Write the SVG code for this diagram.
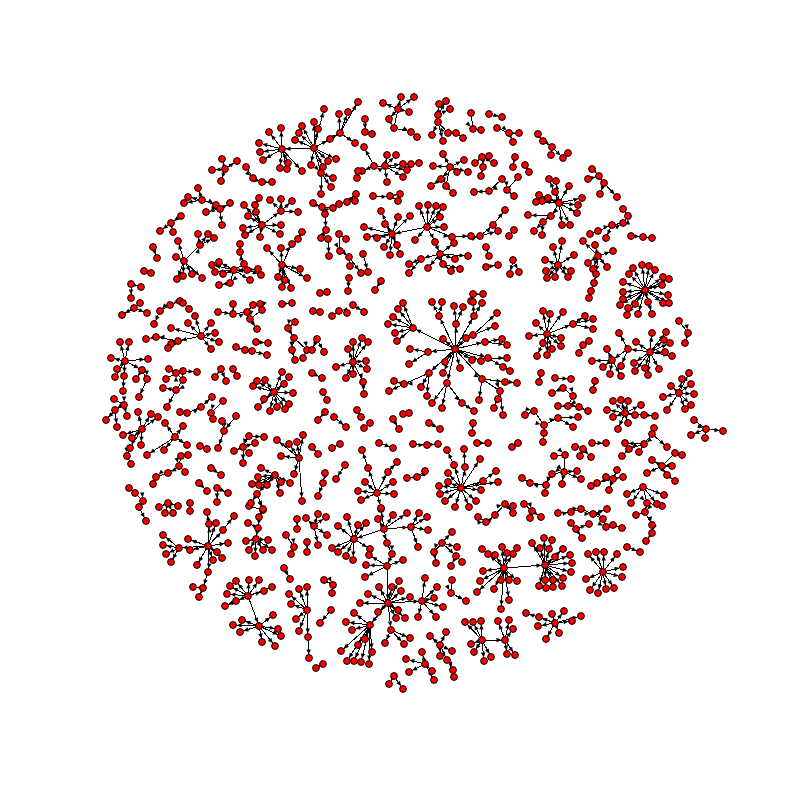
<svg xmlns="http://www.w3.org/2000/svg" width="800" height="800" viewBox="0 0 800 800">
<defs>
<marker id="ar" viewBox="-10 -3 10 6" refX="0" refY="0" markerWidth="10" markerHeight="6" markerUnits="userSpaceOnUse" orient="auto" overflow="visible"><path d="M-3.5 0L-8.5-2.2L-8.5 2.2z" fill="#000"/></marker>
<marker id="nd" viewBox="-5 -5 10 10" refX="0" refY="0" markerWidth="10" markerHeight="10" markerUnits="userSpaceOnUse" overflow="visible"><circle r="3.4" fill="#f00" stroke="#000" stroke-width="1"/></marker>
</defs>
<style>
#connectors path{fill:none;stroke:#000;stroke-width:1;shape-rendering:crispEdges;marker-mid:url(#ar);marker-end:url(#ar)}
#nodes path{fill:none;stroke:none;marker-start:url(#nd);marker-mid:url(#nd);marker-end:url(#nd)}
</style>
<rect width="800" height="800" fill="#fff"/>
<g id="connectors">
<path d="M314 148 282 149"/><path d="M282 149 281 128"/><path d="M282 149 269 132"/><path d="M282 149 259 143"/><path d="M282 149 260 152"/><path d="M282 149 263 160"/><path d="M282 149 280 168"/><path d="M282 149 287 169"/><path d="M282 149 288 163"/><path d="M282 149 302 171"/><path d="M314 148 295 140"/><path d="M314 148 299 133"/><path d="M314 148 302 126"/><path d="M314 148 314 122"/><path d="M314 148 318 129"/><path d="M314 148 324 109"/><path d="M314 148 340 133"/><path d="M340 133 339 114"/><path d="M340 133 348 112"/><path d="M340 133 358 102"/><path d="M340 133 355 143"/><path d="M314 148 330 139"/><path d="M314 148 328 161"/><path d="M314 148 336 159"/><path d="M314 148 323 167"/><path d="M314 148 321 173 333 178"/><path d="M321 173 331 187"/><path d="M321 173 321 194"/><path d="M314 148 311 165"/>
<path d="M365 119 365 132"/><path d="M365 132 372 134"/>
<path d="M398 109 401 97"/><path d="M398 109 414 97"/><path d="M398 109 383 103"/><path d="M398 109 409 112"/><path d="M398 109 389 119"/><path d="M398 109 394 128 411 132 417 137"/>
<path d="M438 115 439 104"/><path d="M438 115 446 101"/><path d="M438 115 450 109"/><path d="M438 115 438 122"/><path d="M438 122 432 135"/><path d="M438 122 448 133 456 133 463 138"/><path d="M438 122 443 141"/>
<path d="M471 113 473 129 481 130"/><path d="M489 114 502 117"/><path d="M497 128 509 133 513 142"/><path d="M509 133 519 133"/>
<path d="M385 166 374 166 364 147"/><path d="M385 166 387 155"/><path d="M385 166 396 155"/><path d="M385 166 403 164"/><path d="M385 166 411 164"/><path d="M385 166 419 163"/><path d="M385 166 407 170"/><path d="M385 166 403 177"/><path d="M385 166 387 182"/><path d="M374 166 362 171"/><path d="M358 171 357 178"/>
<path d="M450 167 443 154"/><path d="M450 167 464 160"/><path d="M450 167 457 172"/><path d="M450 167 468 172"/><path d="M450 167 433 166"/><path d="M450 167 441 179 431 186"/><path d="M450 167 446 186 453 193"/>
<path d="M482 157 475 163"/><path d="M482 157 489 156"/><path d="M482 157 494 163"/><path d="M482 157 483 167 481 176"/>
<path d="M502 179 489 191 474 192"/><path d="M515 157 513 167"/><path d="M518 177 507 190 514 196"/>
<path d="M373 196 390 196 400 194"/><path d="M390 196 398 201"/>
<path d="M313 203 322 207 333 208 339 204 347 202 355 201"/><path d="M347 202 356 194"/><path d="M322 207 325 214 326 230"/>
<path d="M392 234 381 211"/><path d="M392 234 385 224"/><path d="M392 234 398 217"/><path d="M392 234 364 227"/><path d="M392 234 367 237"/><path d="M392 234 377 238"/><path d="M392 234 384 247"/><path d="M392 234 390 255"/><path d="M392 234 397 245"/><path d="M392 234 400 254"/><path d="M392 234 410 216"/><path d="M427 227 392 234"/><path d="M427 227 419 206"/><path d="M427 227 428 205"/><path d="M427 227 436 206"/><path d="M427 227 443 207"/><path d="M427 227 440 217"/><path d="M427 227 444 227"/><path d="M427 227 415 240"/><path d="M427 227 452 237 471 236 480 236 493 225 505 210"/><path d="M480 236 498 231"/><path d="M427 227 435 242 440 254"/><path d="M440 254 454 243"/><path d="M440 254 468 256"/><path d="M440 254 421 259 409 264"/><path d="M421 259 409 273"/><path d="M440 254 443 264 451 271"/><path d="M443 264 460 269"/><path d="M440 254 428 268"/><path d="M440 254 455 259"/>
<path d="M321 238 328 239 329 256"/><path d="M339 234 346 239"/><path d="M339 234 340 251 349 257 361 273"/><path d="M349 257 350 266"/><path d="M363 254 368 272"/>
<path d="M381 281 375 290"/><path d="M349 278 348 291"/><path d="M320 293 327 292"/>
<path d="M486 247 489 256"/><path d="M486 267 498 265"/><path d="M514 230 509 236"/><path d="M513 260 510 274"/><path d="M513 260 519 272"/><path d="M473 294 483 294"/><path d="M473 294 471 301"/>
<path d="M538 134 543 141 552 147 563 158"/><path d="M552 147 551 155"/><path d="M563 158 568 153"/><path d="M525 165 529 172"/>
<path d="M559 203 549 179"/><path d="M559 203 556 181"/><path d="M559 203 555 192"/><path d="M559 203 569 186"/><path d="M559 203 539 195"/><path d="M559 203 542 201"/><path d="M559 203 536 202"/><path d="M559 203 548 198"/><path d="M559 203 582 198"/><path d="M559 203 578 205"/><path d="M559 203 577 213"/><path d="M559 203 551 216 543 222 534 231"/><path d="M543 222 542 235"/><path d="M551 216 528 215"/><path d="M559 203 562 225"/><path d="M559 203 570 225"/>
<path d="M592 169 599 176 604 183 617 197"/><path d="M588 179 599 176"/><path d="M604 183 600 194"/>
<path d="M590 234 598 231"/><path d="M598 231 612 225 623 223 628 216 623 209"/><path d="M612 225 606 238"/>
<path d="M631 236 643 237 652 238"/>
<path d="M558 265 562 241"/><path d="M558 265 553 247"/><path d="M558 265 574 255"/><path d="M558 265 545 260"/><path d="M558 265 546 271"/><path d="M558 265 547 278"/><path d="M558 265 555 277"/><path d="M558 265 568 277"/><path d="M558 265 571 271"/>
<path d="M598 256 583 241"/><path d="M598 256 595 245"/><path d="M598 256 613 251"/><path d="M598 256 588 263"/><path d="M598 256 593 269"/><path d="M598 256 607 267"/><path d="M598 256 596 274 594 283 591 291 589 298"/>
<path d="M645 290 633 268"/><path d="M645 290 642 265"/><path d="M645 290 649 266"/><path d="M645 290 655 270"/><path d="M645 290 629 274"/><path d="M645 290 623 282"/><path d="M645 290 663 277"/><path d="M645 290 669 279"/><path d="M645 290 662 285"/><path d="M645 290 668 295"/><path d="M645 290 623 292"/><path d="M645 290 623 299"/><path d="M645 290 620 305"/><path d="M645 290 628 308"/><path d="M645 290 627 315"/><path d="M645 290 635 304"/><path d="M645 290 638 314"/><path d="M645 290 652 314"/><path d="M645 290 663 303"/><path d="M645 290 669 303"/><path d="M645 290 648 302"/>
<path d="M547 334 543 311"/><path d="M547 334 550 314"/><path d="M547 334 536 323"/><path d="M547 334 563 312"/><path d="M547 334 529 336"/><path d="M547 334 543 343"/><path d="M547 334 552 349"/><path d="M547 334 561 346"/><path d="M547 334 561 338"/><path d="M547 334 547 355"/><path d="M547 334 537 356"/><path d="M547 334 573 324"/><path d="M573 324 585 316"/><path d="M573 324 593 319"/><path d="M573 324 593 329"/>
<path d="M583 345 589 341"/><path d="M583 345 579 353"/>
<path d="M650 352 652 333"/><path d="M650 352 666 332"/><path d="M650 352 664 340"/><path d="M650 352 670 343"/><path d="M650 352 636 342"/><path d="M650 352 665 352"/><path d="M650 352 672 356"/><path d="M650 352 634 363"/><path d="M650 352 635 371"/><path d="M650 352 645 368"/><path d="M650 352 648 375"/><path d="M650 352 659 369"/><path d="M650 352 628 349"/><path d="M628 349 619 333"/><path d="M628 349 621 366"/><path d="M628 349 612 360"/><path d="M612 360 607 349"/><path d="M612 360 592 361"/><path d="M612 360 603 367"/><path d="M612 360 610 374"/><path d="M612 360 621 376"/>
<path d="M679 321 688 333 685 343"/>
<path d="M541 373 539 382"/><path d="M555 378 571 379"/><path d="M595 381 593 390"/>
<path d="M679 393 689 373"/><path d="M679 393 682 379"/><path d="M679 393 691 384"/><path d="M679 393 671 386"/><path d="M679 393 663 397"/><path d="M679 393 694 394"/><path d="M679 393 691 405"/><path d="M679 393 685 409"/><path d="M679 393 667 410"/>
<path d="M694 420 706 429 723 431"/><path d="M706 429 705 438"/><path d="M706 429 691 435"/>
<path d="M625 413 613 401"/><path d="M625 413 621 400"/><path d="M625 413 628 401"/><path d="M625 413 607 410"/><path d="M625 413 613 417"/><path d="M625 413 618 429"/><path d="M625 413 628 423"/><path d="M625 413 635 415"/><path d="M625 413 641 405"/><path d="M625 413 644 415"/><path d="M625 413 655 416"/>
<path d="M563 388 552 393"/><path d="M563 388 573 396 568 406 558 406"/><path d="M568 406 579 407 588 411"/>
<path d="M525 415 534 411 544 425 558 418 578 417"/><path d="M558 418 573 427"/><path d="M544 425 544 433 543 442"/>
<path d="M654 428 652 434 644 444 629 449 622 456"/><path d="M644 444 639 452"/><path d="M644 444 625 443"/><path d="M652 434 667 447"/>
<path d="M675 453 682 455"/><path d="M675 453 662 466 652 460"/><path d="M662 466 672 466"/><path d="M662 466 647 473"/><path d="M662 466 667 475 675 481"/>
<path d="M592 443 606 443"/><path d="M575 447 583 449 591 457"/><path d="M583 449 580 456"/>
<path d="M554 456 565 455 564 472 577 471"/><path d="M564 472 581 479"/><path d="M564 472 552 474 546 485 545 493"/><path d="M546 485 530 483 522 478"/><path d="M564 472 562 484"/>
<path d="M613 479 617 470"/><path d="M613 479 623 477"/><path d="M613 479 606 477"/><path d="M613 479 609 490"/><path d="M613 479 597 483 591 486"/>
<path d="M643 487 627 494"/><path d="M643 487 647 503 662 506"/><path d="M643 487 664 495"/><path d="M643 487 657 504"/><path d="M643 487 631 503"/><path d="M647 503 645 512 636 515"/><path d="M645 512 652 525 652 533 646 541"/><path d="M627 547 640 552"/>
<path d="M524 504 532 511 530 518"/><path d="M532 511 541 517"/>
<path d="M558 513 571 512 581 509 593 514 607 509"/><path d="M593 514 603 519 606 527 613 525 622 528"/><path d="M571 523 576 529 582 538"/><path d="M576 529 589 524"/>
<path d="M504 568 545 565"/><path d="M545 565 532 543"/><path d="M545 565 544 538"/><path d="M545 565 552 540"/><path d="M545 565 540 548"/><path d="M545 565 549 549"/><path d="M545 565 563 549"/><path d="M545 565 570 555"/><path d="M545 565 572 563"/><path d="M545 565 571 572"/><path d="M545 565 563 578"/><path d="M545 565 562 586"/><path d="M545 565 553 587"/><path d="M545 565 553 580"/><path d="M545 565 546 588"/><path d="M545 565 539 586"/><path d="M545 565 545 580"/><path d="M545 565 555 557"/>
<path d="M504 568 482 549"/><path d="M504 568 488 554"/><path d="M504 568 495 555"/><path d="M504 568 502 547"/><path d="M504 568 507 553"/><path d="M504 568 513 554"/><path d="M504 568 517 548"/><path d="M504 568 483 571"/><path d="M504 568 480 581"/><path d="M504 568 477 592"/><path d="M504 568 494 589"/><path d="M504 568 501 580"/><path d="M504 568 509 580"/><path d="M504 568 509 600"/><path d="M504 568 501 609"/><path d="M504 568 517 581"/>
<path d="M603 572 588 554"/><path d="M603 572 596 552"/><path d="M603 572 604 552"/><path d="M603 572 617 554"/><path d="M603 572 623 567"/><path d="M603 572 622 577"/><path d="M603 572 614 588"/><path d="M603 572 606 589"/><path d="M603 572 598 593"/><path d="M603 572 590 590"/><path d="M603 572 586 579"/>
<path d="M555 623 526 613"/><path d="M555 623 539 617"/><path d="M555 623 552 614"/><path d="M555 623 564 611"/><path d="M555 623 572 621"/><path d="M555 623 581 616"/><path d="M555 623 538 626"/><path d="M555 623 559 633"/><path d="M555 623 546 639"/>
<path d="M482 640 465 622"/><path d="M482 640 473 622"/><path d="M482 640 481 621"/><path d="M482 640 471 644"/><path d="M482 640 474 652"/><path d="M482 640 484 661"/><path d="M482 640 491 657"/><path d="M482 640 505 640"/><path d="M505 640 498 621"/><path d="M505 640 509 620"/><path d="M505 640 513 629"/><path d="M505 640 507 654"/><path d="M505 640 515 655"/>
<path d="M440 645 430 636"/><path d="M440 645 446 632"/><path d="M440 645 452 651"/><path d="M440 645 440 656"/><path d="M440 645 447 660 453 670 454 677"/>
<path d="M425 664 422 652"/><path d="M425 664 406 659"/><path d="M425 664 409 672"/><path d="M425 664 432 671"/><path d="M425 664 434 680"/>
<path d="M394 676 389 684"/><path d="M394 676 403 689"/>
<path d="M452 580 451 593 466 601"/>
<path d="M442 543 452 532"/><path d="M442 543 457 547"/><path d="M442 543 434 552 436 563"/><path d="M442 543 456 556 462 562"/><path d="M456 556 451 566"/>
<path d="M478 517 486 522 495 515 505 504 513 506"/><path d="M505 504 513 513"/>
<path d="M314 526 318 514"/><path d="M314 526 326 517"/><path d="M314 526 327 535"/><path d="M314 526 318 545"/><path d="M314 526 306 518"/>
<path d="M384 529 354 539"/><path d="M354 539 347 517"/><path d="M354 539 338 526"/><path d="M354 539 358 525"/><path d="M354 539 366 523"/><path d="M354 539 332 548"/><path d="M354 539 338 552"/><path d="M354 539 346 556"/><path d="M354 539 353 560"/><path d="M354 539 370 549"/>
<path d="M384 529 381 509"/><path d="M384 529 393 515"/><path d="M384 529 378 519"/><path d="M384 529 407 513"/><path d="M384 529 411 527"/><path d="M411 527 419 513"/><path d="M411 527 427 517"/><path d="M411 527 428 530"/><path d="M411 527 418 547"/><path d="M384 529 387 543 392 554 387 566"/><path d="M387 566 369 555"/><path d="M387 566 366 565"/><path d="M387 566 365 577"/><path d="M387 566 403 560"/><path d="M387 566 388 603"/>
<path d="M388 603 379 587"/><path d="M388 603 392 587"/><path d="M388 603 399 581"/><path d="M388 603 401 591"/><path d="M388 603 410 597"/><path d="M388 603 368 594"/><path d="M388 603 360 603"/><path d="M388 603 398 610"/><path d="M388 603 396 618"/><path d="M388 603 405 618"/><path d="M388 603 378 612"/><path d="M388 603 391 630"/><path d="M391 630 410 638"/><path d="M391 630 404 644"/><path d="M391 630 385 643"/>
<path d="M388 603 422 601"/><path d="M422 601 425 578"/><path d="M422 601 437 587"/><path d="M422 601 434 598"/><path d="M422 601 443 607"/><path d="M422 601 436 617"/><path d="M422 601 418 617"/>
<path d="M388 603 370 625"/><path d="M370 625 354 613"/><path d="M370 625 346 622"/><path d="M370 625 352 630"/><path d="M370 625 365 639"/><path d="M370 625 358 645"/><path d="M370 625 341 651"/><path d="M370 625 347 661"/><path d="M370 625 354 661"/><path d="M370 625 361 662"/><path d="M370 625 369 664"/><path d="M370 625 372 652"/>
<path d="M324 580 333 585 332 593"/><path d="M331 610 320 623"/><path d="M323 664 316 668"/>
<path d="M307 610 289 594"/><path d="M307 610 291 604"/><path d="M307 610 299 589"/><path d="M307 610 307 587"/><path d="M307 610 296 619"/><path d="M307 610 299 631"/><path d="M307 610 308 637"/><path d="M308 637 309 658"/>
<path d="M248 596 236 581"/><path d="M248 596 249 580"/><path d="M248 596 259 580"/><path d="M248 596 230 586"/><path d="M248 596 272 587"/><path d="M248 596 264 591"/><path d="M248 596 227 594"/><path d="M248 596 236 601"/><path d="M248 596 225 606"/><path d="M248 596 259 626"/><path d="M259 626 233 625"/><path d="M259 626 242 620"/><path d="M259 626 240 632"/><path d="M259 626 273 615"/><path d="M259 626 278 629"/><path d="M259 626 281 636"/><path d="M259 626 275 646"/><path d="M259 626 262 642"/>
<path d="M249 506 263 510 259 517 258 528 256 539"/><path d="M258 528 248 523"/><path d="M256 539 246 541"/><path d="M256 539 249 550"/><path d="M256 539 255 556"/><path d="M256 539 263 550"/><path d="M256 539 272 550"/><path d="M256 539 268 540"/>
<path d="M286 535 294 547 291 554"/><path d="M284 568 290 579"/><path d="M307 542 307 552"/><path d="M297 519 297 529"/>
<path d="M208 546 209 524 207 512"/><path d="M208 546 216 523"/><path d="M208 546 223 530 234 516"/><path d="M208 546 228 543"/><path d="M208 546 217 552"/><path d="M208 546 222 558"/><path d="M208 546 213 560"/><path d="M208 546 188 539"/><path d="M208 546 190 550"/><path d="M208 546 179 548"/><path d="M179 548 163 535"/><path d="M179 548 163 545"/><path d="M179 548 166 554"/><path d="M179 548 171 562"/><path d="M208 546 197 565"/><path d="M208 546 208 572 203 588"/><path d="M203 588 193 587"/><path d="M203 588 199 597"/>
<path d="M168 503 159 507"/><path d="M168 503 165 513"/><path d="M168 503 173 513"/><path d="M168 503 178 506"/><path d="M190 503 190 511"/>
<path d="M129 488 135 493 143 501 139 507"/><path d="M139 507 146 521"/>
<path d="M140 303 134 308 122 315"/><path d="M134 308 147 313"/><path d="M180 301 170 305 160 311 154 324"/><path d="M183 303 189 309"/>
<path d="M201 336 188 323"/><path d="M201 336 195 316"/><path d="M201 336 211 323"/><path d="M201 336 215 333"/><path d="M201 336 219 342"/><path d="M201 336 211 349"/><path d="M201 336 178 341"/><path d="M201 336 171 328"/><path d="M178 341 171 344"/><path d="M178 341 168 348"/><path d="M178 341 156 337 146 339"/>
<path d="M218 312 233 314"/><path d="M233 314 233 304"/><path d="M233 314 247 312 253 305"/><path d="M260 304 262 310 250 319 257 329"/><path d="M282 304 292 303"/>
<path d="M236 347 245 350 252 351 267 355"/><path d="M256 342 268 343"/>
<path d="M295 322 288 328 294 338"/><path d="M294 338 292 350 295 360"/><path d="M294 338 307 350 303 358"/>
<path d="M125 361 120 342"/><path d="M125 361 129 342"/><path d="M125 361 111 358"/><path d="M125 361 117 369"/><path d="M125 361 115 377"/><path d="M125 361 124 376"/><path d="M125 361 148 359"/><path d="M125 361 142 370"/><path d="M142 370 136 379"/><path d="M142 370 147 379 139 397"/><path d="M124 376 123 391"/>
<path d="M166 379 176 373 169 369"/><path d="M176 373 183 371 197 372"/><path d="M176 373 183 380 176 390 163 388"/><path d="M176 390 167 407"/>
<path d="M221 369 215 377"/><path d="M221 369 226 381"/><path d="M233 369 237 376"/>
<path d="M274 392 282 372"/><path d="M274 392 289 377"/><path d="M274 392 284 384"/><path d="M274 392 257 381"/><path d="M274 392 265 380"/><path d="M274 392 253 386"/><path d="M274 392 293 393"/><path d="M274 392 289 404"/><path d="M274 392 285 409"/><path d="M274 392 277 407"/><path d="M274 392 270 411"/><path d="M274 392 264 399"/><path d="M274 392 258 407"/>
<path d="M114 399 124 405 115 410 106 420"/><path d="M115 410 117 427"/><path d="M124 405 127 416"/>
<path d="M142 429 138 412"/><path d="M142 429 151 414"/><path d="M142 429 158 417"/><path d="M142 429 123 435"/><path d="M142 429 132 438"/><path d="M142 429 141 445"/><path d="M142 429 130 448 127 456 131 464"/>
<path d="M180 412 187 413 201 407 212 397"/><path d="M223 401 211 413 213 419"/>
<path d="M175 437 165 423"/><path d="M175 437 183 426"/><path d="M175 437 187 445"/><path d="M175 437 164 450"/><path d="M175 437 147 455"/>
<path d="M222 421 224 431 218 448"/><path d="M236 416 224 431"/><path d="M200 446 207 449"/>
<path d="M249 436 243 447 243 463"/><path d="M243 447 255 443"/><path d="M243 447 249 453"/><path d="M243 447 234 451"/><path d="M249 436 264 437"/>
<path d="M299 458 277 440"/><path d="M299 458 289 444"/><path d="M299 458 297 442"/><path d="M299 458 303 435"/><path d="M299 458 281 456"/><path d="M299 458 294 474"/><path d="M299 458 302 501"/>
<path d="M275 475 261 468"/><path d="M275 475 258 477"/><path d="M275 475 252 484"/><path d="M275 475 259 485"/><path d="M275 475 267 485"/><path d="M275 475 281 482"/><path d="M275 475 290 483"/><path d="M275 475 280 493"/><path d="M275 475 257 494"/><path d="M257 494 251 503"/><path d="M257 494 263 509"/>
<path d="M211 468 221 475"/><path d="M217 488 228 493"/><path d="M217 488 217 502"/>
<path d="M181 456 188 455"/><path d="M181 456 179 466 185 472"/><path d="M179 466 168 473 156 477 153 484"/><path d="M199 483 207 491"/>
<path d="M225 169 222 159"/><path d="M225 169 237 161"/><path d="M225 169 212 170"/><path d="M225 169 221 181"/><path d="M246 167 253 178 262 182 272 182"/>
<path d="M202 200 198 188"/><path d="M202 200 188 197"/><path d="M202 200 184 203"/><path d="M202 200 216 205 220 209 230 203"/><path d="M220 209 206 212"/><path d="M220 209 222 225"/>
<path d="M262 225 256 212 255 205 259 198"/><path d="M262 225 248 216"/><path d="M262 225 244 205"/><path d="M262 225 243 228"/><path d="M262 225 245 235"/><path d="M262 225 260 237"/><path d="M262 225 280 234"/><path d="M262 225 281 225"/><path d="M262 225 281 211"/><path d="M281 211 281 199"/><path d="M281 211 292 201"/><path d="M281 211 298 212"/><path d="M281 211 270 200"/>
<path d="M181 216 171 223 160 231"/><path d="M171 223 173 232"/>
<path d="M184 261 200 245 198 234"/><path d="M200 245 208 234"/><path d="M200 245 214 238"/><path d="M184 261 178 241"/><path d="M184 261 176 257"/><path d="M184 261 177 279"/><path d="M184 261 183 276"/><path d="M184 261 192 274"/><path d="M184 261 202 278"/><path d="M153 247 157 258"/>
<path d="M234 270 244 264 240 252 240 244"/><path d="M234 270 219 262"/><path d="M234 270 212 265"/><path d="M234 270 215 272"/><path d="M234 270 223 274"/><path d="M234 270 230 283 219 285"/><path d="M234 270 247 270 258 269"/><path d="M234 270 250 280"/><path d="M247 270 261 275"/>
<path d="M282 265 267 248"/><path d="M282 265 281 248"/><path d="M282 265 292 244 298 239 302 232"/><path d="M282 265 300 269"/><path d="M282 265 307 278"/><path d="M282 265 278 277"/><path d="M282 265 285 280"/><path d="M282 265 282 287"/><path d="M282 265 291 288"/>
<path d="M144 271 151 273"/><path d="M131 284 141 287"/><path d="M131 284 131 298"/>
<path d="M455 349 443 339"/><path d="M455 349 428 352"/><path d="M428 352 410 349"/><path d="M428 352 409 364"/><path d="M455 349 413 328"/><path d="M413 328 403 303"/><path d="M413 328 398 309"/><path d="M413 328 393 317"/><path d="M413 328 388 324"/><path d="M413 328 395 333"/><path d="M413 328 397 341"/><path d="M455 349 439 316 432 302"/><path d="M439 316 442 302"/><path d="M455 349 456 324 454 306"/><path d="M456 324 463 307"/><path d="M455 349 474 316 482 303"/><path d="M474 316 473 302"/><path d="M455 349 473 335 497 313"/><path d="M473 335 495 326"/><path d="M455 349 485 342 502 339"/><path d="M485 342 507 345"/><path d="M455 349 466 338"/><path d="M455 349 472 360"/><path d="M455 349 481 361"/><path d="M455 349 488 358 503 367"/><path d="M488 358 507 358"/><path d="M488 358 510 371"/><path d="M455 349 460 368"/><path d="M455 349 445 362"/><path d="M455 349 443 373"/><path d="M455 349 429 373"/><path d="M429 373 404 384 394 381"/><path d="M404 384 389 391"/><path d="M429 373 421 387"/><path d="M429 373 427 396"/><path d="M455 349 447 383"/><path d="M447 383 432 403"/><path d="M447 383 442 408"/><path d="M447 383 462 403 474 411"/><path d="M455 349 482 379 505 382"/><path d="M482 379 517 383"/><path d="M482 379 500 391 498 399"/><path d="M500 391 494 408"/><path d="M500 391 503 415"/><path d="M482 379 479 400"/>
<path d="M353 305 364 312"/><path d="M347 313 339 311 332 316"/><path d="M313 311 320 312"/><path d="M317 339 312 350"/><path d="M317 339 324 352"/><path d="M312 373 322 378"/>
<path d="M353 362 348 349"/><path d="M353 362 353 342"/><path d="M353 362 362 338"/><path d="M353 362 368 342"/><path d="M353 362 366 361"/><path d="M353 362 367 369"/><path d="M353 362 353 374"/><path d="M353 362 346 378"/><path d="M353 362 336 367"/><path d="M353 362 363 382 364 394"/>
<path d="M323 392 327 400"/><path d="M325 412 318 420"/><path d="M334 417 346 427"/><path d="M357 410 361 417"/><path d="M364 428 370 423"/><path d="M393 419 399 429"/><path d="M403 414 409 413"/><path d="M429 423 440 429"/><path d="M473 423 472 433"/><path d="M512 447 518 443"/><path d="M312 447 318 454"/><path d="M332 448 340 444"/><path d="M379 443 393 448"/><path d="M413 444 427 445 438 444"/><path d="M477 443 488 443"/><path d="M425 471 417 477 407 478"/><path d="M345 465 336 479"/><path d="M325 473 323 483 318 496"/>
<path d="M377 493 368 468 362 450"/><path d="M377 493 388 472 397 462"/><path d="M377 493 393 482"/><path d="M377 493 394 494"/><path d="M377 493 365 482"/><path d="M377 493 358 491"/><path d="M377 493 361 500"/><path d="M377 493 381 508"/>
<path d="M461 488 454 465 447 450"/><path d="M461 488 465 467 464 449"/><path d="M461 488 480 459"/><path d="M461 488 448 473"/><path d="M461 488 448 482"/><path d="M461 488 439 486"/><path d="M461 488 440 494"/><path d="M461 488 445 501"/><path d="M461 488 455 507"/><path d="M461 488 469 507"/><path d="M461 488 476 501"/><path d="M461 488 481 490"/><path d="M461 488 483 481 496 471"/><path d="M461 488 498 482"/>
</g>
<g id="nodes">
<path id="c1" d="M314 148 282 149 281 128 269 132 259 143 260 152 263 160 280 168 287 169 288 163 302 171 295 140 299 133 302 126 314 122 318 129 324 109 340 133 339 114 348 112 358 102 355 143 330 139 328 161 336 159 323 167 321 173 333 178 331 187 321 194 311 165"/>
<path id="c2" d="M365 119 365 132 372 134"/>
<path id="c3" d="M398 109 401 97 414 97 383 103 409 112 389 119 394 128 411 132 417 137"/>
<path id="c4" d="M438 115 439 104 446 101 450 109 438 122 432 135 448 133 456 133 463 138 443 141"/>
<path id="c5" d="M471 113 473 129 481 130 489 114 502 117 497 128 509 133 513 142 519 133"/>
<path id="c6" d="M385 166 374 166 364 147 387 155 396 155 403 164 411 164 419 163 407 170 403 177 387 182 362 171 358 171 357 178"/>
<path id="c7" d="M450 167 443 154 464 160 457 172 468 172 433 166 441 179 431 186 446 186 453 193"/>
<path id="c8" d="M482 157 475 163 489 156 494 163 483 167 481 176 502 179 489 191 474 192 515 157 513 167 518 177 507 190 514 196"/>
<path id="c9" d="M373 196 390 196 400 194 398 201 313 203 322 207 333 208 339 204 347 202 355 201 356 194 325 214 326 230"/>
<path id="c10" d="M392 234 381 211 385 224 398 217 364 227 367 237 377 238 384 247 390 255 397 245 400 254 410 216 427 227 419 206 428 205 436 206 443 207 440 217 444 227 415 240 452 237 471 236 480 236 493 225 505 210 498 231 435 242 440 254 454 243 468 256 421 259 409 264 409 273 443 264 451 271 460 269 428 268 455 259"/>
<path id="c11" d="M321 238 328 239 329 256 339 234 346 239 340 251 349 257 361 273 350 266 363 254 368 272 381 281 375 290 349 278 348 291 320 293 327 292"/>
<path id="c12" d="M486 247 489 256 486 267 498 265 514 230 509 236 513 260 510 274 519 272 473 294 483 294 471 301"/>
<path id="c13" d="M538 134 543 141 552 147 563 158 551 155 568 153 525 165 529 172"/>
<path id="c14" d="M559 203 549 179 556 181 555 192 569 186 539 195 542 201 536 202 548 198 582 198 578 205 577 213 551 216 543 222 534 231 542 235 528 215 562 225 570 225"/>
<path id="c15" d="M592 169 599 176 604 183 617 197 588 179 600 194 590 234 598 231 612 225 623 223 628 216 623 209 606 238 631 236 643 237 652 238"/>
<path id="c16" d="M558 265 562 241 553 247 574 255 545 260 546 271 547 278 555 277 568 277 571 271"/>
<path id="c17" d="M598 256 583 241 595 245 613 251 588 263 593 269 607 267 596 274 594 283 591 291 589 298"/>
<path id="c18" d="M645 290 633 268 642 265 649 266 655 270 629 274 623 282 663 277 669 279 662 285 668 295 623 292 623 299 620 305 628 308 627 315 635 304 638 314 652 314 663 303 669 303 648 302"/>
<path id="c19" d="M547 334 543 311 550 314 536 323 563 312 529 336 543 343 552 349 561 346 561 338 547 355 537 356 573 324 585 316 593 319 593 329 583 345 589 341 579 353"/>
<path id="c20" d="M650 352 652 333 666 332 664 340 670 343 636 342 665 352 672 356 634 363 635 371 645 368 648 375 659 369 628 349 619 333 621 366 612 360 607 349 592 361 603 367 610 374 621 376"/>
<path id="c21" d="M679 321 688 333 685 343 541 373 539 382 555 378 571 379 595 381 593 390"/>
<path id="c22" d="M679 393 689 373 682 379 691 384 671 386 663 397 694 394 691 405 685 409 667 410 694 420 706 429 723 431 705 438 691 435"/>
<path id="c23" d="M625 413 613 401 621 400 628 401 607 410 613 417 618 429 628 423 635 415 641 405 644 415 655 416"/>
<path id="c24" d="M563 388 552 393 573 396 568 406 558 406 579 407 588 411 525 415 534 411 544 425 558 418 578 417 573 427 544 433 543 442"/>
<path id="c25" d="M654 428 652 434 644 444 629 449 622 456 639 452 625 443 667 447 675 453 682 455 662 466 652 460 672 466 647 473 667 475 675 481"/>
<path id="c26" d="M592 443 606 443 575 447 583 449 591 457 580 456 554 456 565 455 564 472 577 471 581 479 552 474 546 485 545 493 530 483 522 478 562 484"/>
<path id="c27" d="M613 479 617 470 623 477 606 477 609 490 597 483 591 486 643 487 627 494 647 503 662 506 664 495 657 504 631 503 645 512 636 515 652 525 652 533 646 541 627 547 640 552"/>
<path id="c28" d="M524 504 532 511 530 518 541 517 558 513 571 512 581 509 593 514 607 509 603 519 606 527 613 525 622 528 571 523 576 529 582 538 589 524"/>
<path id="c29" d="M545 565 532 543 544 538 552 540 540 548 549 549 563 549 570 555 572 563 571 572 563 578 562 586 553 587 553 580 546 588 539 586 545 580 555 557 504 568 482 549 488 554 495 555 502 547 507 553 513 554 517 548 483 571 480 581 477 592 494 589 501 580 509 580 509 600 501 609 517 581"/>
<path id="c30" d="M603 572 588 554 596 552 604 552 617 554 623 567 622 577 614 588 606 589 598 593 590 590 586 579"/>
<path id="c31" d="M555 623 526 613 539 617 552 614 564 611 572 621 581 616 538 626 559 633 546 639"/>
<path id="c32" d="M482 640 465 622 473 622 481 621 471 644 474 652 484 661 491 657 505 640 498 621 509 620 513 629 507 654 515 655"/>
<path id="c33" d="M440 645 430 636 446 632 452 651 440 656 447 660 453 670 454 677 425 664 422 652 406 659 409 672 432 671 434 680 394 676 389 684 403 689"/>
<path id="c34" d="M452 580 451 593 466 601 442 543 452 532 457 547 434 552 436 563 456 556 462 562 451 566 478 517 486 522 495 515 505 504 513 506 513 513"/>
<path id="c35" d="M314 526 318 514 326 517 327 535 318 545 306 518"/>
<path id="c36" d="M384 529 354 539 347 517 338 526 358 525 366 523 332 548 338 552 346 556 353 560 370 549 381 509 393 515 378 519 407 513 411 527 419 513 427 517 428 530 418 547 387 543 392 554 387 566 369 555 366 565 365 577 403 560 388 603 379 587 392 587 399 581 401 591 410 597 368 594 360 603 398 610 396 618 405 618 378 612 391 630 410 638 404 644 385 643 422 601 425 578 437 587 434 598 443 607 436 617 418 617 370 625 354 613 346 622 352 630 365 639 358 645 341 651 347 661 354 661 361 662 369 664 372 652"/>
<path id="c37" d="M324 580 333 585 332 593 331 610 320 623 323 664 316 668"/>
<path id="c38" d="M307 610 289 594 291 604 299 589 307 587 296 619 299 631 308 637 309 658"/>
<path id="c39" d="M248 596 236 581 249 580 259 580 230 586 272 587 264 591 227 594 236 601 225 606 259 626 233 625 242 620 240 632 273 615 278 629 281 636 275 646 262 642"/>
<path id="c40" d="M249 506 263 510 259 517 258 528 256 539 248 523 246 541 249 550 255 556 263 550 272 550 268 540 286 535 294 547 291 554 284 568 290 579 307 542 307 552 297 519 297 529"/>
<path id="c41" d="M208 546 209 524 207 512 216 523 223 530 234 516 228 543 217 552 222 558 213 560 188 539 190 550 179 548 163 535 163 545 166 554 171 562 197 565 208 572 203 588 193 587 199 597"/>
<path id="c42" d="M168 503 159 507 165 513 173 513 178 506 190 503 190 511 129 488 135 493 143 501 139 507 146 521"/>
<path id="c43" d="M140 303 134 308 122 315 147 313 180 301 170 305 160 311 154 324 183 303 189 309"/>
<path id="c44" d="M201 336 188 323 195 316 211 323 215 333 219 342 211 349 178 341 171 328 171 344 168 348 156 337 146 339"/>
<path id="c45" d="M218 312 233 314 233 304 247 312 253 305 260 304 262 310 250 319 257 329 282 304 292 303 236 347 245 350 252 351 267 355 256 342 268 343 295 322 288 328 294 338 292 350 295 360 307 350 303 358"/>
<path id="c46" d="M125 361 120 342 129 342 111 358 117 369 115 377 124 376 148 359 142 370 136 379 147 379 139 397 123 391"/>
<path id="c47" d="M166 379 176 373 169 369 183 371 197 372 183 380 176 390 163 388 167 407 221 369 215 377 226 381 233 369 237 376"/>
<path id="c48" d="M274 392 282 372 289 377 284 384 257 381 265 380 253 386 293 393 289 404 285 409 277 407 270 411 264 399 258 407"/>
<path id="c49" d="M114 399 124 405 115 410 106 420 117 427 127 416 142 429 138 412 151 414 158 417 123 435 132 438 141 445 130 448 127 456 131 464"/>
<path id="c50" d="M180 412 187 413 201 407 212 397 223 401 211 413 213 419 175 437 165 423 183 426 187 445 164 450 147 455 222 421 224 431 218 448 236 416 200 446 207 449"/>
<path id="c51" d="M249 436 243 447 243 463 255 443 249 453 234 451 264 437"/>
<path id="c52" d="M299 458 277 440 289 444 297 442 303 435 281 456 294 474 302 501"/>
<path id="c53" d="M275 475 261 468 258 477 252 484 259 485 267 485 281 482 290 483 280 493 257 494 251 503 263 509"/>
<path id="c54" d="M211 468 221 475 217 488 228 493 217 502 181 456 188 455 179 466 185 472 168 473 156 477 153 484 199 483 207 491"/>
<path id="c55" d="M225 169 222 159 237 161 212 170 221 181 246 167 253 178 262 182 272 182"/>
<path id="c56" d="M202 200 198 188 188 197 184 203 216 205 220 209 230 203 206 212 222 225 181 216 171 223 160 231 173 232"/>
<path id="c57" d="M262 225 256 212 255 205 259 198 248 216 244 205 243 228 245 235 260 237 280 234 281 225 281 211 281 199 292 201 298 212 270 200"/>
<path id="c58" d="M184 261 200 245 198 234 208 234 214 238 178 241 176 257 177 279 183 276 192 274 202 278 153 247 157 258"/>
<path id="c59" d="M234 270 244 264 240 252 240 244 219 262 212 265 215 272 223 274 230 283 219 285 247 270 258 269 250 280 261 275"/>
<path id="c60" d="M282 265 267 248 281 248 292 244 298 239 302 232 300 269 307 278 278 277 285 280 282 287 291 288 144 271 151 273 131 284 141 287 131 298"/>
<path id="c61" d="M455 349 443 339 428 352 410 349 409 364 413 328 403 303 398 309 393 317 388 324 395 333 397 341 439 316 432 302 442 302 456 324 454 306 463 307 474 316 482 303 473 302 473 335 497 313 495 326 485 342 502 339 507 345 466 338 472 360 481 361 488 358 503 367 507 358 510 371 460 368 445 362 443 373 429 373 404 384 394 381 389 391 421 387 427 396 447 383 432 403 442 408 462 403 474 411 482 379 505 382 517 383 500 391 498 399 494 408 503 415 479 400"/>
<path id="c62" d="M353 305 364 312 347 313 339 311 332 316 313 311 320 312 317 339 312 350 324 352 312 373 322 378"/>
<path id="c63" d="M353 362 348 349 353 342 362 338 368 342 366 361 367 369 353 374 346 378 336 367 363 382 364 394"/>
<path id="c64" d="M323 392 327 400 325 412 318 420 334 417 346 427 357 410 361 417 364 428 370 423 393 419 399 429 403 414 409 413 429 423 440 429 473 423 472 433 512 447 518 443 312 447 318 454 332 448 340 444 379 443 393 448 413 444 427 445 438 444 477 443 488 443 425 471 417 477 407 478 345 465 336 479 325 473 323 483 318 496"/>
<path id="c65" d="M377 493 368 468 362 450 388 472 397 462 393 482 394 494 365 482 358 491 361 500 381 508"/>
<path id="c66" d="M461 488 454 465 447 450 465 467 464 449 480 459 448 473 448 482 439 486 440 494 445 501 455 507 469 507 476 501 481 490 483 481 496 471 498 482"/>
</g>
</svg>
